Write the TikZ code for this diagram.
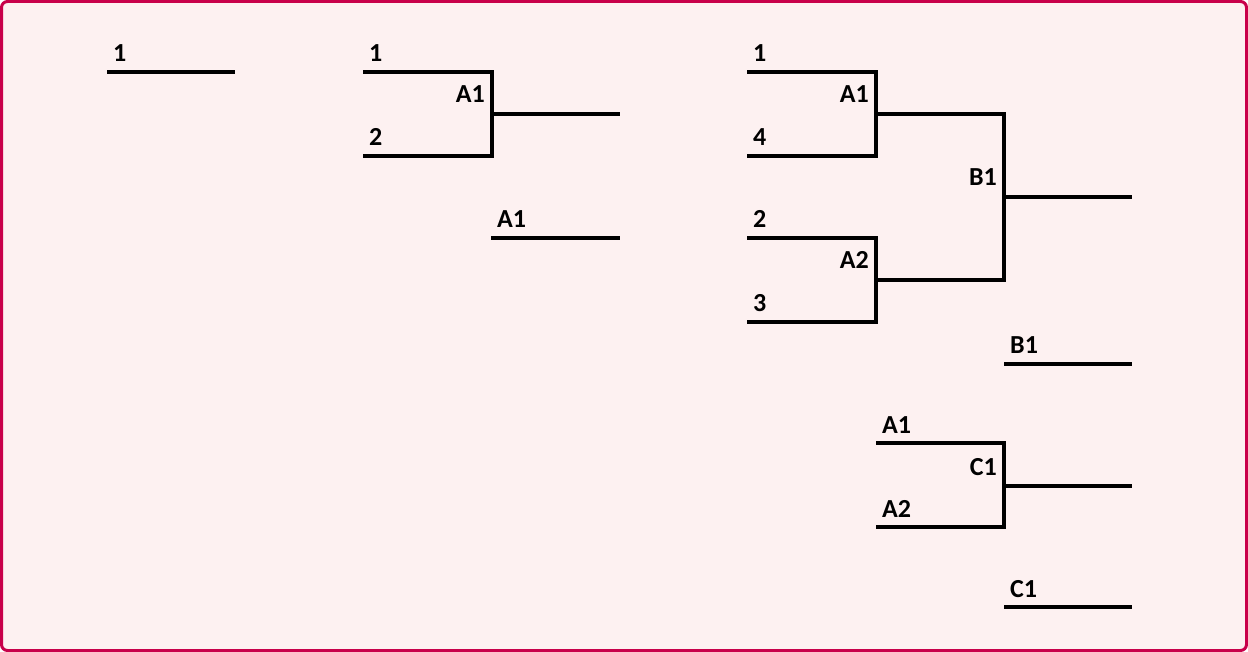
\documentclass[tikz,border=0pt]{standalone}
\usepackage{fontspec}
\setmainfont{Carlito}
\usetikzlibrary{positioning}
\definecolor{frame}{HTML}{C8004A}
\definecolor{paper}{HTML}{FDF1F1}

\tikzset{
  rung/.style={line width=4pt, line join=miter},
  seed/.style={font=\bfseries\fontsize{26}{26}\selectfont, inner sep=0pt, anchor=base west},
  winner/.style={seed, anchor=base east}
}

\begin{document}
\begin{tikzpicture}[x=1pt,y=-1pt]
  \useasboundingbox (0,0) rectangle (1248,652);
  \draw[frame, line width=3pt, fill=paper, rounded corners=6pt] (1.5,1.5) rectangle (1246.5,650.5);

  % one player
  \coordinate (s1a) at (107,72);  \coordinate (s1b) at (235,72);
  \draw[rung] (s1a) -- (s1b);
  \node[seed] (s1lab) at (113,62) {1};

  % two players
  \coordinate (t1a) at (363,72);  \coordinate (t1b) at (492,72);
  \coordinate (t2a) at (363,156); \coordinate (t2b) at (492,156);
  \coordinate (tm) at (492,114);  \coordinate (to) at (620,114);
  \draw[rung] (t1a) -- (t1b) -- (t2b) -- (t2a);
  \draw[rung] (tm) -- (to);
  \node[seed] (t1lab) at (369,62) {1};
  \node[seed] (t2lab) at (369,146) {2};
  \node[winner] (tAlab) at (485,103) {A1};
  \coordinate (tfa) at (491,238); \coordinate (tfb) at (620,238);
  \draw[rung] (tfa) -- (tfb);
  \node[seed] (tflab) at (497,228) {A1};

  % four players
  \coordinate (f1a) at (747,72);  \coordinate (f1b) at (876,72);
  \coordinate (f4a) at (747,156); \coordinate (f4b) at (876,156);
  \coordinate (f2a) at (747,238); \coordinate (f2b) at (876,238);
  \coordinate (f3a) at (747,322); \coordinate (f3b) at (876,322);
  \coordinate (fA1) at (876,114); \coordinate (fA1o) at (1004,114);
  \coordinate (fA2) at (876,280); \coordinate (fA2o) at (1004,280);
  \coordinate (fB) at (1004,197); \coordinate (fBo) at (1132,197);
  \draw[rung] (f1a) -- (f1b) -- (f4b) -- (f4a);
  \draw[rung] (f2a) -- (f2b) -- (f3b) -- (f3a);
  \draw[rung] (fA1) -- (fA1o) -- (fA2o) -- (fA2);
  \draw[rung] (fB) -- (fBo);
  \node[seed] (f1lab) at (753,62) {1};
  \node[seed] (f4lab) at (753,146) {4};
  \node[seed] (f2lab) at (753,228) {2};
  \node[seed] (f3lab) at (753,312) {3};
  \node[winner] (fA1lab) at (869,103) {A1};
  \node[winner] (fA2lab) at (869,269) {A2};
  \node[winner] (fBlab) at (997,186) {B1};
  \coordinate (fBfa) at (1004,364); \coordinate (fBfb) at (1132,364);
  \draw[rung] (fBfa) -- (fBfb);
  \node[seed] (fBflab) at (1010,354) {B1};

  % losers' match
  \coordinate (c1a) at (876,443);  \coordinate (c1b) at (1004,443);
  \coordinate (c2a) at (876,527);  \coordinate (c2b) at (1004,527);
  \coordinate (cm) at (1004,486);  \coordinate (co) at (1132,486);
  \draw[rung] (c1a) -- (c1b) -- (c2b) -- (c2a);
  \draw[rung] (cm) -- (co);
  \node[seed] (c1lab) at (882,433) {A1};
  \node[seed] (c2lab) at (882,517) {A2};
  \node[winner] (cClab) at (997,475) {C1};
  \coordinate (cfa) at (1004,607); \coordinate (cfb) at (1132,607);
  \draw[rung] (cfa) -- (cfb);
  \node[seed] (cflab) at (1010,597) {C1};
\end{tikzpicture}
\end{document}
